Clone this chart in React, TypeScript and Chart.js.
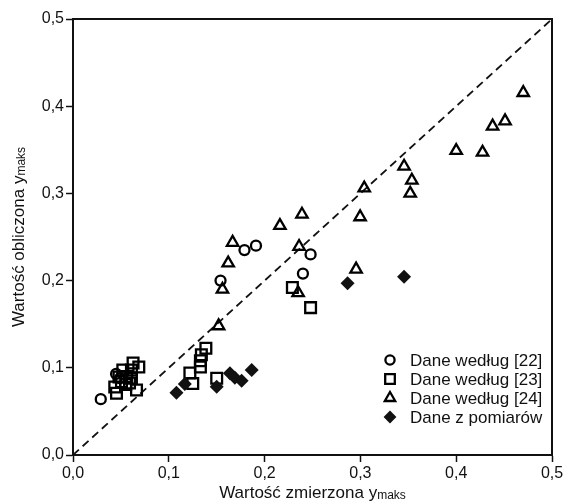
import React, { useEffect, useRef } from 'react';
import { Chart, registerables } from 'chart.js';
Chart.register(...registerables);

// Data according to [22] (circles)
const s22X = [0.029, 0.045, 0.049, 0.154, 0.179, 0.191, 0.240, 0.248];
const s22Y = [0.064, 0.093, 0.088, 0.200, 0.235, 0.240, 0.208, 0.230];
// Data according to [23] (squares)
const s23X = [0.0627, 0.0687, 0.061, 0.052, 0.056, 0.061, 0.0506, 0.055, 0.0436, 0.0454, 0.0663, 0.059, 0.048,
  0.1387, 0.134, 0.133, 0.133, 0.122, 0.125, 0.150, 0.229, 0.248];
const s23Y = [0.1055, 0.101, 0.0975, 0.0975, 0.090, 0.088, 0.084, 0.081, 0.078, 0.0708, 0.0745, 0.0826, 0.0895,
  0.1224, 0.115, 0.108, 0.101, 0.094, 0.082, 0.088, 0.192, 0.169];
// Data according to [24] (triangles)
const s24X = [0.470, 0.451, 0.438, 0.400, 0.4275, 0.3456, 0.3537, 0.352, 0.304, 0.239, 0.216, 0.2997, 0.236,
  0.2955, 0.235, 0.1666, 0.162, 0.156, 0.152];
const s24Y = [0.4155, 0.383, 0.377, 0.349, 0.347, 0.331, 0.315, 0.300, 0.306, 0.276, 0.263, 0.273, 0.239,
  0.213, 0.186, 0.2437, 0.220, 0.190, 0.148];
// Measured data (filled diamonds)
const measX = [0.108, 0.1167, 0.150, 0.1638, 0.169, 0.176, 0.1865, 0.2866, 0.3456];
const measY = [0.0714, 0.0814, 0.0783, 0.0937, 0.0886, 0.0852, 0.0975, 0.197, 0.2045];
// Reference line y = x
const lineX = [0, 0.5];
const lineY = [0, 0.5];

const legendLabels = ['Dane według [22]', 'Dane według [23]', 'Dane według [24]', 'Dane z pomiarów'];
const xTitle = 'Wartość zmierzona y';
const yTitle = 'Wartość obliczona y';
const titleSub = 'maks';

const FONT = '"Liberation Sans", Arial, Helvetica, sans-serif';
const fmt = (v: number) => Number(v).toFixed(1).replace('.', ',');
const pts = (xs: number[], ys: number[]) => xs.map((x, i) => ({ x, y: ys[i] }));

const STYLES = [
  { pointStyle: 'circle', radius: 5, legendR: 4.6, fill: false },
  { pointStyle: 'rect', radius: 7.6, legendR: 6.8, fill: false },
  { pointStyle: 'triangle', radius: 6.6, legendR: 6, fill: false },
  { pointStyle: 'rectRot', radius: 7, legendR: 6.4, fill: true },
];
const STROKE = 2.3;

function drawMarker(ctx: CanvasRenderingContext2D, style: string, r: number, x: number, y: number, fill: boolean) {
  ctx.beginPath();
  if (style === 'circle') {
    ctx.arc(x, y, r, 0, Math.PI * 2);
  } else if (style === 'rect') {
    const s = r * Math.SQRT1_2;
    ctx.rect(x - s, y - s, 2 * s, 2 * s);
  } else if (style === 'triangle') {
    for (let k = 0; k < 3; k++) {
      const a = (k * 2 * Math.PI) / 3;
      const px = x + Math.sin(a) * r;
      const py = y - Math.cos(a) * r;
      if (k === 0) ctx.moveTo(px, py); else ctx.lineTo(px, py);
    }
    ctx.closePath();
  } else {
    ctx.moveTo(x, y - r);
    ctx.lineTo(x + r, y);
    ctx.lineTo(x, y + r);
    ctx.lineTo(x - r, y);
    ctx.closePath();
  }
  if (fill) { ctx.fillStyle = '#111'; ctx.fill(); }
  else { ctx.lineWidth = STROKE; ctx.strokeStyle = '#000'; ctx.stroke(); }
}

function drawTitle(ctx: CanvasRenderingContext2D, main: string, sub: string, cx: number, cy: number) {
  ctx.font = `17px ${FONT}`;
  const w1 = ctx.measureText(main).width;
  ctx.font = `12px ${FONT}`;
  const w2 = ctx.measureText(sub).width;
  const start = cx - (w1 + w2) / 2;
  ctx.fillStyle = '#111';
  ctx.textBaseline = 'alphabetic';
  ctx.textAlign = 'left';
  ctx.font = `17px ${FONT}`;
  ctx.fillText(main, start, cy + 6);
  ctx.font = `12px ${FONT}`;
  ctx.fillText(sub, start + w1, cy + 7);
}

const decorPlugin = {
  id: 'decor',
  afterDatasetsDraw(chart: any) {
    const { ctx, chartArea } = chart;
    ctx.save();
    // frame
    ctx.strokeStyle = '#111';
    ctx.lineWidth = 2;
    ctx.strokeRect(chartArea.left, chartArea.top, chartArea.right - chartArea.left, chartArea.bottom - chartArea.top);
    // legend
    const lx = chartArea.right - 162;
    const ly0 = chartArea.bottom - 95;
    legendLabels.forEach((lab, i) => {
      const y = ly0 + i * 19;
      const st = STYLES[i];
      drawMarker(ctx, st.pointStyle, st.legendR, lx, y, st.fill);
      ctx.fillStyle = '#111';
      ctx.font = `17px ${FONT}`;
      ctx.textBaseline = 'middle';
      ctx.textAlign = 'left';
      ctx.fillText(lab, lx + 20, y + 1);
    });
    // axis titles
    const cx = (chartArea.left + chartArea.right) / 2;
    drawTitle(ctx, xTitle, titleSub, cx, 492);
    const cy = (chartArea.top + chartArea.bottom) / 2;
    ctx.translate(18, cy);
    ctx.rotate(-Math.PI / 2);
    drawTitle(ctx, yTitle, titleSub, 0, 0);
    ctx.restore();
  },
};

export default function App() {
  const ref = useRef<HTMLCanvasElement>(null);
  useEffect(() => {
    document.body.style.margin = '0';
    const canvas = ref.current!;
    const mk = (i: number, label: string, data: any[]) => ({
      type: 'scatter' as const,
      label,
      data,
      pointStyle: STYLES[i].pointStyle,
      pointRadius: STYLES[i].radius,
      pointHoverRadius: STYLES[i].radius,
      pointBorderWidth: STYLES[i].fill ? 0 : STROKE,
      pointBorderColor: '#000',
      pointBackgroundColor: STYLES[i].fill ? '#111' : 'rgba(0,0,0,0)',
      showLine: false,
    });
    const chart = new Chart(canvas, {
      type: 'scatter',
      data: {
        datasets: [
          mk(3, legendLabels[3], pts(measX, measY)),
          mk(2, legendLabels[2], pts(s24X, s24Y)),
          mk(1, legendLabels[1], pts(s23X, s23Y)),
          mk(0, legendLabels[0], pts(s22X, s22Y)),
          {
            type: 'line' as const,
            label: 'y=x',
            data: pts(lineX, lineY),
            borderColor: '#111',
            borderWidth: 1.8,
            borderDash: [8, 5],
            pointRadius: 0,
            fill: false,
          },
        ] as any,
      },
      options: {
        animation: false,
        responsive: false,
        layout: { padding: { top: 19, right: 31, left: 0, bottom: 0 } },
        plugins: { legend: { display: false }, tooltip: { enabled: false } },
        scales: {
          x: {
            type: 'linear',
            min: 0,
            max: 0.5,
            afterFit: (s: any) => { s.height = 49; },
            ticks: { stepSize: 0.1, callback: (v: any) => fmt(v), color: '#111', font: { family: FONT, size: 16 }, padding: 2, maxRotation: 0 },
            grid: { drawOnChartArea: false, drawTicks: true, tickLength: 7, tickWidth: 1.5, tickColor: '#111', color: '#111' },
            border: { display: true, color: '#111', width: 2 },
          },
          y: {
            type: 'linear',
            min: 0,
            max: 0.5,
            afterFit: (s: any) => { s.width = 73; },
            ticks: { stepSize: 0.1, callback: (v: any) => fmt(v), color: '#111', font: { family: FONT, size: 16 }, padding: 2 },
            grid: { drawOnChartArea: false, drawTicks: true, tickLength: 7, tickWidth: 1.5, tickColor: '#111', color: '#111' },
            border: { display: true, color: '#111', width: 2 },
          },
        },
      },
      plugins: [decorPlugin],
    });
    return () => chart.destroy();
  }, []);
  return (
    <div style={{ width: 583, height: 504 }}>
      <canvas ref={ref} width={583} height={504} />
    </div>
  );
}
